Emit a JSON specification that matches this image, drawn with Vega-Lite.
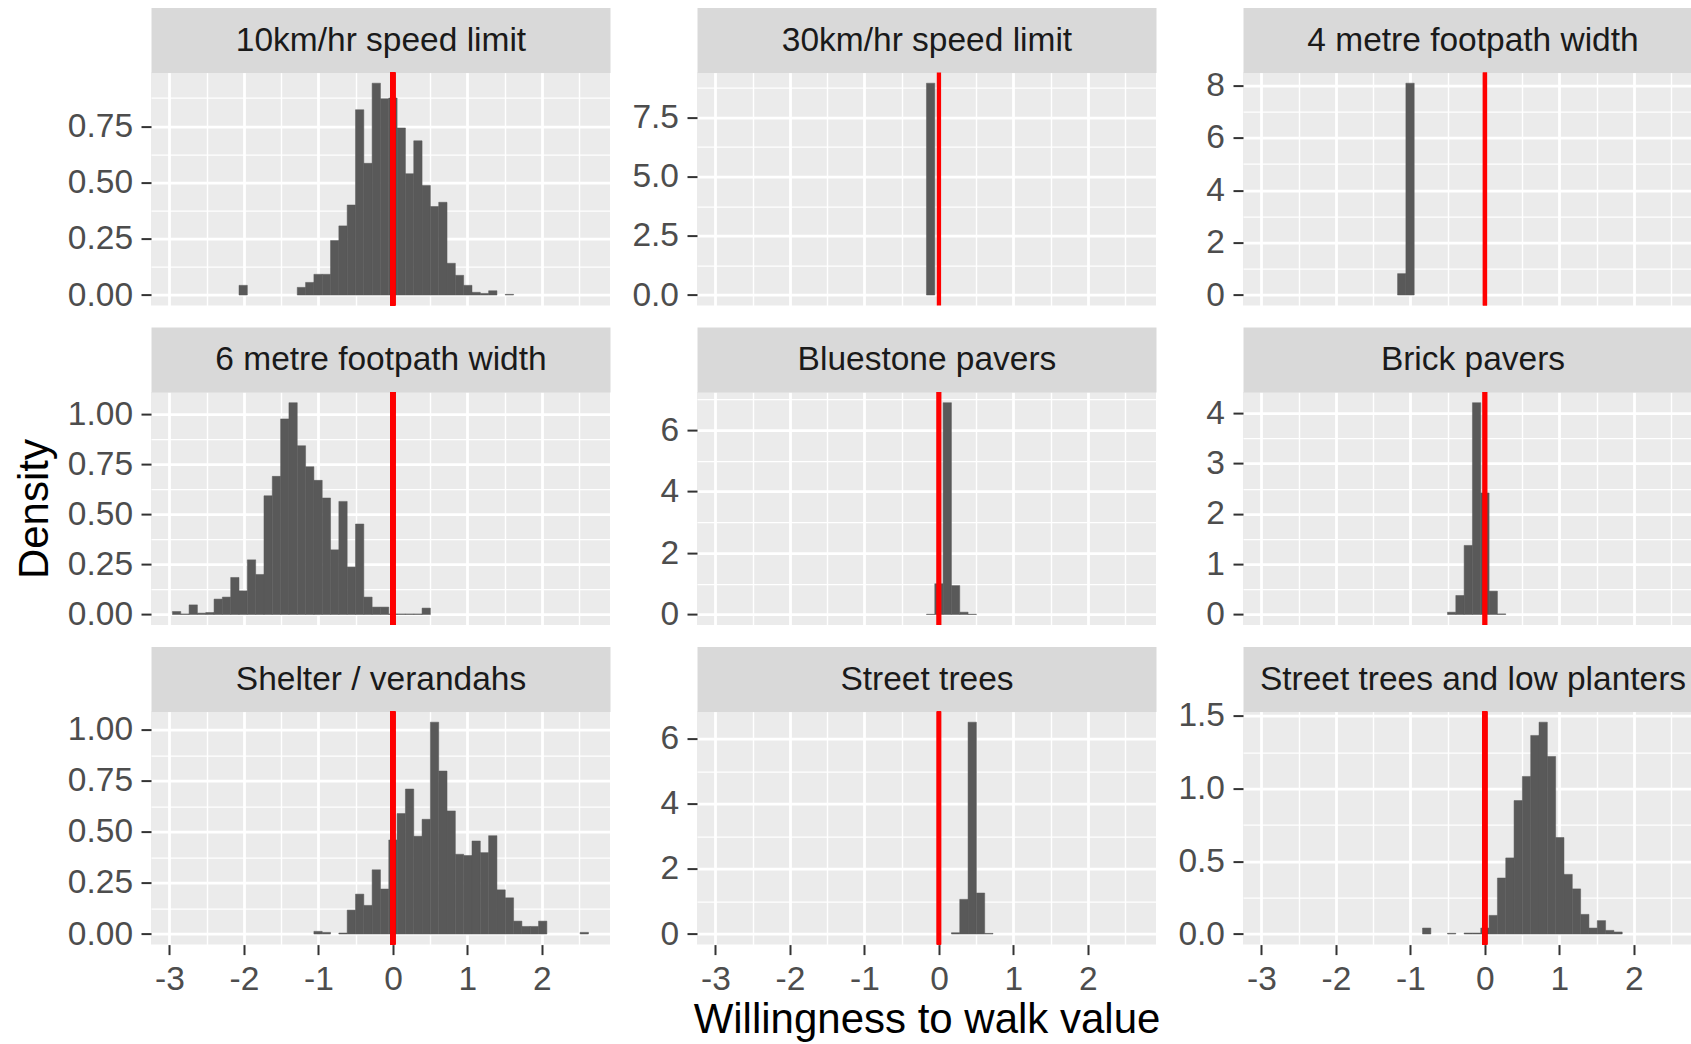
{
  "$schema": "https://vega.github.io/schema/vega-lite/v6.json",
  "background": "#FFFFFF",
  "padding": {"left": 13, "top": 22.6, "right": 0, "bottom": 0},
  "config": {
    "view": {"fill": "#EBEBEB", "stroke": null},
    "font": "Liberation Sans",
    "axis": {
      "labelFont": "Liberation Sans",
      "labelFontSize": 33.5,
      "labelColor": "#4D4D4D",
      "labelPadding": 8.5,
      "labelFlush": false,
      "labelOverlap": false,
      "tickColor": "#333333",
      "tickSize": 10,
      "tickWidth": 2,
      "gridColor": "#FFFFFF",
      "domain": false,
      "titleFont": "Liberation Sans",
      "titleFontSize": 42,
      "titleFontWeight": "normal",
      "titleColor": "#000000"
    }
  },
  "data": {
    "values": [
      {"p": "10km/hr speed limit", "lo": -2.0665, "hi": -1.9548, "d": 0.043},
      {"p": "10km/hr speed limit", "lo": -1.2846, "hi": -1.1729, "d": 0.034},
      {"p": "10km/hr speed limit", "lo": -1.1729, "hi": -1.0612, "d": 0.056},
      {"p": "10km/hr speed limit", "lo": -1.0612, "hi": -0.9495, "d": 0.092},
      {"p": "10km/hr speed limit", "lo": -0.9495, "hi": -0.8378, "d": 0.092},
      {"p": "10km/hr speed limit", "lo": -0.8378, "hi": -0.7261, "d": 0.242},
      {"p": "10km/hr speed limit", "lo": -0.7261, "hi": -0.6144, "d": 0.307},
      {"p": "10km/hr speed limit", "lo": -0.6144, "hi": -0.5027, "d": 0.400},
      {"p": "10km/hr speed limit", "lo": -0.5027, "hi": -0.391, "d": 0.823},
      {"p": "10km/hr speed limit", "lo": -0.391, "hi": -0.2793, "d": 0.585},
      {"p": "10km/hr speed limit", "lo": -0.2793, "hi": -0.1676, "d": 0.941},
      {"p": "10km/hr speed limit", "lo": -0.1676, "hi": -0.0559, "d": 0.872},
      {"p": "10km/hr speed limit", "lo": -0.0559, "hi": 0.0559, "d": 0.875},
      {"p": "10km/hr speed limit", "lo": 0.0559, "hi": 0.1676, "d": 0.742},
      {"p": "10km/hr speed limit", "lo": 0.1676, "hi": 0.2793, "d": 0.539},
      {"p": "10km/hr speed limit", "lo": 0.2793, "hi": 0.391, "d": 0.685},
      {"p": "10km/hr speed limit", "lo": 0.391, "hi": 0.5027, "d": 0.487},
      {"p": "10km/hr speed limit", "lo": 0.5027, "hi": 0.6144, "d": 0.393},
      {"p": "10km/hr speed limit", "lo": 0.6144, "hi": 0.7261, "d": 0.412},
      {"p": "10km/hr speed limit", "lo": 0.7261, "hi": 0.8378, "d": 0.141},
      {"p": "10km/hr speed limit", "lo": 0.8378, "hi": 0.9495, "d": 0.0875},
      {"p": "10km/hr speed limit", "lo": 0.9495, "hi": 1.0612, "d": 0.043},
      {"p": "10km/hr speed limit", "lo": 1.0612, "hi": 1.1729, "d": 0.012},
      {"p": "10km/hr speed limit", "lo": 1.1729, "hi": 1.2846, "d": 0.007},
      {"p": "10km/hr speed limit", "lo": 1.2846, "hi": 1.3963, "d": 0.019},
      {"p": "10km/hr speed limit", "lo": 1.508, "hi": 1.6197, "d": 0.003},

      {"p": "30km/hr speed limit", "lo": -0.1676, "hi": -0.0559, "d": 8.95},

      {"p": "4 metre footpath width", "lo": -1.1729, "hi": -1.0612, "d": 0.816},
      {"p": "4 metre footpath width", "lo": -1.0612, "hi": -0.9495, "d": 8.09},

      {"p": "6 metre footpath width", "lo": -2.9601, "hi": -2.8484, "d": 0.015},
      {"p": "6 metre footpath width", "lo": -2.8484, "hi": -2.7367, "d": 0.003},
      {"p": "6 metre footpath width", "lo": -2.7367, "hi": -2.625, "d": 0.048},
      {"p": "6 metre footpath width", "lo": -2.625, "hi": -2.5133, "d": 0.007},
      {"p": "6 metre footpath width", "lo": -2.5133, "hi": -2.4016, "d": 0.010},
      {"p": "6 metre footpath width", "lo": -2.4016, "hi": -2.2899, "d": 0.077},
      {"p": "6 metre footpath width", "lo": -2.2899, "hi": -2.1782, "d": 0.087},
      {"p": "6 metre footpath width", "lo": -2.1782, "hi": -2.0665, "d": 0.185},
      {"p": "6 metre footpath width", "lo": -2.0665, "hi": -1.9548, "d": 0.118},
      {"p": "6 metre footpath width", "lo": -1.9548, "hi": -1.8431, "d": 0.273},
      {"p": "6 metre footpath width", "lo": -1.8431, "hi": -1.7314, "d": 0.200},
      {"p": "6 metre footpath width", "lo": -1.7314, "hi": -1.6197, "d": 0.593},
      {"p": "6 metre footpath width", "lo": -1.6197, "hi": -1.508, "d": 0.690},
      {"p": "6 metre footpath width", "lo": -1.508, "hi": -1.3963, "d": 0.977},
      {"p": "6 metre footpath width", "lo": -1.3963, "hi": -1.2846, "d": 1.058},
      {"p": "6 metre footpath width", "lo": -1.2846, "hi": -1.1729, "d": 0.843},
      {"p": "6 metre footpath width", "lo": -1.1729, "hi": -1.0612, "d": 0.738},
      {"p": "6 metre footpath width", "lo": -1.0612, "hi": -0.9495, "d": 0.670},
      {"p": "6 metre footpath width", "lo": -0.9495, "hi": -0.8378, "d": 0.582},
      {"p": "6 metre footpath width", "lo": -0.8378, "hi": -0.7261, "d": 0.323},
      {"p": "6 metre footpath width", "lo": -0.7261, "hi": -0.6144, "d": 0.565},
      {"p": "6 metre footpath width", "lo": -0.6144, "hi": -0.5027, "d": 0.237},
      {"p": "6 metre footpath width", "lo": -0.5027, "hi": -0.391, "d": 0.452},
      {"p": "6 metre footpath width", "lo": -0.391, "hi": -0.2793, "d": 0.087},
      {"p": "6 metre footpath width", "lo": -0.2793, "hi": -0.1676, "d": 0.037},
      {"p": "6 metre footpath width", "lo": -0.1676, "hi": -0.0559, "d": 0.037},
      {"p": "6 metre footpath width", "lo": -0.0559, "hi": 0.0559, "d": 0.003},
      {"p": "6 metre footpath width", "lo": 0.0559, "hi": 0.1676, "d": 0.003},
      {"p": "6 metre footpath width", "lo": 0.1676, "hi": 0.2793, "d": 0.003},
      {"p": "6 metre footpath width", "lo": 0.2793, "hi": 0.391, "d": 0.003},
      {"p": "6 metre footpath width", "lo": 0.391, "hi": 0.5027, "d": 0.032},

      {"p": "Bluestone pavers", "lo": -0.1676, "hi": -0.0559, "d": 0.010},
      {"p": "Bluestone pavers", "lo": -0.0559, "hi": 0.0559, "d": 1.00},
      {"p": "Bluestone pavers", "lo": 0.0559, "hi": 0.1676, "d": 6.89},
      {"p": "Bluestone pavers", "lo": 0.1676, "hi": 0.2793, "d": 0.94},
      {"p": "Bluestone pavers", "lo": 0.2793, "hi": 0.391, "d": 0.076},
      {"p": "Bluestone pavers", "lo": 0.391, "hi": 0.5027, "d": 0.010},

      {"p": "Brick pavers", "lo": -0.5027, "hi": -0.391, "d": 0.046},
      {"p": "Brick pavers", "lo": -0.391, "hi": -0.2793, "d": 0.378},
      {"p": "Brick pavers", "lo": -0.2793, "hi": -0.1676, "d": 1.373},
      {"p": "Brick pavers", "lo": -0.1676, "hi": -0.0559, "d": 4.21},
      {"p": "Brick pavers", "lo": -0.0559, "hi": 0.0559, "d": 2.415},
      {"p": "Brick pavers", "lo": 0.0559, "hi": 0.1676, "d": 0.464},
      {"p": "Brick pavers", "lo": 0.1676, "hi": 0.2793, "d": 0.013},

      {"p": "Shelter / verandahs", "lo": -1.0612, "hi": -0.9495, "d": 0.013},
      {"p": "Shelter / verandahs", "lo": -0.9495, "hi": -0.8378, "d": 0.008},
      {"p": "Shelter / verandahs", "lo": -0.7261, "hi": -0.6144, "d": 0.005},
      {"p": "Shelter / verandahs", "lo": -0.6144, "hi": -0.5027, "d": 0.117},
      {"p": "Shelter / verandahs", "lo": -0.5027, "hi": -0.391, "d": 0.195},
      {"p": "Shelter / verandahs", "lo": -0.391, "hi": -0.2793, "d": 0.140},
      {"p": "Shelter / verandahs", "lo": -0.2793, "hi": -0.1676, "d": 0.314},
      {"p": "Shelter / verandahs", "lo": -0.1676, "hi": -0.0559, "d": 0.220},
      {"p": "Shelter / verandahs", "lo": -0.0559, "hi": 0.0559, "d": 0.460},
      {"p": "Shelter / verandahs", "lo": 0.0559, "hi": 0.1676, "d": 0.589},
      {"p": "Shelter / verandahs", "lo": 0.1676, "hi": 0.2793, "d": 0.709},
      {"p": "Shelter / verandahs", "lo": 0.2793, "hi": 0.391, "d": 0.478},
      {"p": "Shelter / verandahs", "lo": 0.391, "hi": 0.5027, "d": 0.561},
      {"p": "Shelter / verandahs", "lo": 0.5027, "hi": 0.6144, "d": 1.036},
      {"p": "Shelter / verandahs", "lo": 0.6144, "hi": 0.7261, "d": 0.797},
      {"p": "Shelter / verandahs", "lo": 0.7261, "hi": 0.8378, "d": 0.602},
      {"p": "Shelter / verandahs", "lo": 0.8378, "hi": 0.9495, "d": 0.390},
      {"p": "Shelter / verandahs", "lo": 0.9495, "hi": 1.0612, "d": 0.384},
      {"p": "Shelter / verandahs", "lo": 1.0612, "hi": 1.1729, "d": 0.455},
      {"p": "Shelter / verandahs", "lo": 1.1729, "hi": 1.2846, "d": 0.398},
      {"p": "Shelter / verandahs", "lo": 1.2846, "hi": 1.3963, "d": 0.481},
      {"p": "Shelter / verandahs", "lo": 1.3963, "hi": 1.508, "d": 0.216},
      {"p": "Shelter / verandahs", "lo": 1.508, "hi": 1.6197, "d": 0.177},
      {"p": "Shelter / verandahs", "lo": 1.6197, "hi": 1.7314, "d": 0.063},
      {"p": "Shelter / verandahs", "lo": 1.7314, "hi": 1.8431, "d": 0.037},
      {"p": "Shelter / verandahs", "lo": 1.8431, "hi": 1.9548, "d": 0.037},
      {"p": "Shelter / verandahs", "lo": 1.9548, "hi": 2.0665, "d": 0.063},
      {"p": "Shelter / verandahs", "lo": 2.5133, "hi": 2.625, "d": 0.008},

      {"p": "Street trees", "lo": 0.1676, "hi": 0.2793, "d": 0.04},
      {"p": "Street trees", "lo": 0.2793, "hi": 0.391, "d": 1.065},
      {"p": "Street trees", "lo": 0.391, "hi": 0.5027, "d": 6.51},
      {"p": "Street trees", "lo": 0.5027, "hi": 0.6144, "d": 1.26},
      {"p": "Street trees", "lo": 0.6144, "hi": 0.7261, "d": 0.02},

      {"p": "Street trees and low planters", "lo": -0.8378, "hi": -0.7261, "d": 0.041},
      {"p": "Street trees and low planters", "lo": -0.5027, "hi": -0.391, "d": 0.005},
      {"p": "Street trees and low planters", "lo": -0.2793, "hi": -0.1676, "d": 0.007},
      {"p": "Street trees and low planters", "lo": -0.1676, "hi": -0.0559, "d": 0.007},
      {"p": "Street trees and low planters", "lo": -0.0559, "hi": 0.0559, "d": 0.041},
      {"p": "Street trees and low planters", "lo": 0.0559, "hi": 0.1676, "d": 0.128},
      {"p": "Street trees and low planters", "lo": 0.1676, "hi": 0.2793, "d": 0.385},
      {"p": "Street trees and low planters", "lo": 0.2793, "hi": 0.391, "d": 0.523},
      {"p": "Street trees and low planters", "lo": 0.391, "hi": 0.5027, "d": 0.917},
      {"p": "Street trees and low planters", "lo": 0.5027, "hi": 0.6144, "d": 1.083},
      {"p": "Street trees and low planters", "lo": 0.6144, "hi": 0.7261, "d": 1.365},
      {"p": "Street trees and low planters", "lo": 0.7261, "hi": 0.8378, "d": 1.456},
      {"p": "Street trees and low planters", "lo": 0.8378, "hi": 0.9495, "d": 1.220},
      {"p": "Street trees and low planters", "lo": 0.9495, "hi": 1.0612, "d": 0.663},
      {"p": "Street trees and low planters", "lo": 1.0612, "hi": 1.1729, "d": 0.410},
      {"p": "Street trees and low planters", "lo": 1.1729, "hi": 1.2846, "d": 0.310},
      {"p": "Street trees and low planters", "lo": 1.2846, "hi": 1.3963, "d": 0.135},
      {"p": "Street trees and low planters", "lo": 1.3963, "hi": 1.508, "d": 0.041},
      {"p": "Street trees and low planters", "lo": 1.508, "hi": 1.6197, "d": 0.092},
      {"p": "Street trees and low planters", "lo": 1.6197, "hi": 1.7314, "d": 0.025},
      {"p": "Street trees and low planters", "lo": 1.7314, "hi": 1.8431, "d": 0.014}
    ]
  },
  "columns": 3,
  "bounds": "flush",
  "spacing": {"row": 86.5, "column": 87},
  "concat": [
    {
      "width": 459, "height": 233,
      "transform": [{"filter": {"field": "p", "equal": "10km/hr speed limit"}}],
      "layer": [
        {"mark": {"type": "bar", "color": "#595959", "stroke": "#595959", "strokeWidth": 0.5},
         "encoding": {
           "x": {"field": "lo", "type": "quantitative", "scale": {"domain": [-3.248, 2.914], "nice": false},
                 "axis": {"orient": "bottom", "values": [-3, -2, -1, 0, 1, 2], "grid": true, "gridWidth": 2.8, "labels": false, "ticks": false, "title": null, "minExtent": 0}},
           "x2": {"field": "hi"},
           "y": {"field": "d", "type": "quantitative", "scale": {"domain": [-0.047, 0.988], "nice": false},
                 "axis": {"orient": "left", "values": [0, 0.25, 0.5, 0.75], "format": ".2f", "grid": true, "gridWidth": 2.8, "title": null}},
           "y2": {"datum": 0}}},
        {"mark": {"type": "bar", "opacity": 0},
         "encoding": {
           "x": {"field": "lo", "type": "quantitative", "scale": {"domain": [-3.248, 2.914], "nice": false},
                 "axis": {"orient": "top", "values": [-2.5, -1.5, -0.5, 0.5, 1.5, 2.5], "grid": true, "gridWidth": 1.4, "labels": false, "ticks": false,
                          "domain": true, "domainColor": "#D9D9D9", "domainWidth": 65, "offset": 32.5,
                          "title": "10km/hr speed limit", "titleY": 0, "titleBaseline": "middle", "titleFontSize": 33.5, "titleColor": "#1A1A1A"}},
           "x2": {"field": "hi"},
           "y": {"field": "d", "type": "quantitative", "scale": {"domain": [-0.047, 0.988], "nice": false},
                 "axis": {"orient": "right", "values": [0.125, 0.375, 0.625, 0.875], "grid": true, "gridWidth": 1.4, "labels": false, "ticks": false, "title": null, "minExtent": 0}},
           "y2": {"datum": 0}}},
        {"mark": {"type": "rule", "color": "#FF0000", "strokeWidth": 4.3},
         "encoding": {"x": {"datum": 0, "type": "quantitative", "axis": null}}}
      ],
      "resolve": {"axis": {"x": "independent", "y": "independent"}}
    },
    {
      "width": 459, "height": 233,
      "transform": [{"filter": {"field": "p", "equal": "30km/hr speed limit"}}],
      "layer": [
        {"mark": {"type": "bar", "color": "#595959", "stroke": "#595959", "strokeWidth": 0.5},
         "encoding": {
           "x": {"field": "lo", "type": "quantitative", "scale": {"domain": [-3.248, 2.914], "nice": false},
                 "axis": {"orient": "bottom", "values": [-3, -2, -1, 0, 1, 2], "grid": true, "gridWidth": 2.8, "labels": false, "ticks": false, "title": null, "minExtent": 0}},
           "x2": {"field": "hi"},
           "y": {"field": "d", "type": "quantitative", "scale": {"domain": [-0.4475, 9.3975], "nice": false},
                 "axis": {"orient": "left", "values": [0, 2.5, 5, 7.5], "format": ".1f", "grid": true, "gridWidth": 2.8, "title": null}},
           "y2": {"datum": 0}}},
        {"mark": {"type": "bar", "opacity": 0},
         "encoding": {
           "x": {"field": "lo", "type": "quantitative", "scale": {"domain": [-3.248, 2.914], "nice": false},
                 "axis": {"orient": "top", "values": [-2.5, -1.5, -0.5, 0.5, 1.5, 2.5], "grid": true, "gridWidth": 1.4, "labels": false, "ticks": false,
                          "domain": true, "domainColor": "#D9D9D9", "domainWidth": 65, "offset": 32.5,
                          "title": "30km/hr speed limit", "titleY": 0, "titleBaseline": "middle", "titleFontSize": 33.5, "titleColor": "#1A1A1A"}},
           "x2": {"field": "hi"},
           "y": {"field": "d", "type": "quantitative", "scale": {"domain": [-0.4475, 9.3975], "nice": false},
                 "axis": {"orient": "right", "values": [1.25, 3.75, 6.25, 8.75], "grid": true, "gridWidth": 1.4, "labels": false, "ticks": false, "title": null, "minExtent": 0}},
           "y2": {"datum": 0}}},
        {"mark": {"type": "rule", "color": "#FF0000", "strokeWidth": 4.3},
         "encoding": {"x": {"datum": 0, "type": "quantitative", "axis": null}}}
      ],
      "resolve": {"axis": {"x": "independent", "y": "independent"}}
    },
    {
      "width": 459, "height": 233,
      "transform": [{"filter": {"field": "p", "equal": "4 metre footpath width"}}],
      "layer": [
        {"mark": {"type": "bar", "color": "#595959", "stroke": "#595959", "strokeWidth": 0.5},
         "encoding": {
           "x": {"field": "lo", "type": "quantitative", "scale": {"domain": [-3.248, 2.914], "nice": false},
                 "axis": {"orient": "bottom", "values": [-3, -2, -1, 0, 1, 2], "grid": true, "gridWidth": 2.8, "labels": false, "ticks": false, "title": null, "minExtent": 0}},
           "x2": {"field": "hi"},
           "y": {"field": "d", "type": "quantitative", "scale": {"domain": [-0.4045, 8.4945], "nice": false},
                 "axis": {"orient": "left", "values": [0, 2, 4, 6, 8], "format": "d", "grid": true, "gridWidth": 2.8, "title": null}},
           "y2": {"datum": 0}}},
        {"mark": {"type": "bar", "opacity": 0},
         "encoding": {
           "x": {"field": "lo", "type": "quantitative", "scale": {"domain": [-3.248, 2.914], "nice": false},
                 "axis": {"orient": "top", "values": [-2.5, -1.5, -0.5, 0.5, 1.5, 2.5], "grid": true, "gridWidth": 1.4, "labels": false, "ticks": false,
                          "domain": true, "domainColor": "#D9D9D9", "domainWidth": 65, "offset": 32.5,
                          "title": "4 metre footpath width", "titleY": 0, "titleBaseline": "middle", "titleFontSize": 33.5, "titleColor": "#1A1A1A"}},
           "x2": {"field": "hi"},
           "y": {"field": "d", "type": "quantitative", "scale": {"domain": [-0.4045, 8.4945], "nice": false},
                 "axis": {"orient": "right", "values": [1, 3, 5, 7], "grid": true, "gridWidth": 1.4, "labels": false, "ticks": false, "title": null, "minExtent": 0}},
           "y2": {"datum": 0}}},
        {"mark": {"type": "rule", "color": "#FF0000", "strokeWidth": 4.3},
         "encoding": {"x": {"datum": 0, "type": "quantitative", "axis": null}}}
      ],
      "resolve": {"axis": {"x": "independent", "y": "independent"}}
    },
    {
      "width": 459, "height": 233,
      "transform": [{"filter": {"field": "p", "equal": "6 metre footpath width"}}],
      "layer": [
        {"mark": {"type": "bar", "color": "#595959", "stroke": "#595959", "strokeWidth": 0.5},
         "encoding": {
           "x": {"field": "lo", "type": "quantitative", "scale": {"domain": [-3.248, 2.914], "nice": false},
                 "axis": {"orient": "bottom", "values": [-3, -2, -1, 0, 1, 2], "grid": true, "gridWidth": 2.8, "labels": false, "ticks": false, "title": null, "minExtent": 0}},
           "x2": {"field": "hi"},
           "y": {"field": "d", "type": "quantitative", "scale": {"domain": [-0.0529, 1.1109], "nice": false},
                 "axis": {"orient": "left", "values": [0, 0.25, 0.5, 0.75, 1], "format": ".2f", "grid": true, "gridWidth": 2.8, "title": "Density", "titlePadding": 11}},
           "y2": {"datum": 0}}},
        {"mark": {"type": "bar", "opacity": 0},
         "encoding": {
           "x": {"field": "lo", "type": "quantitative", "scale": {"domain": [-3.248, 2.914], "nice": false},
                 "axis": {"orient": "top", "values": [-2.5, -1.5, -0.5, 0.5, 1.5, 2.5], "grid": true, "gridWidth": 1.4, "labels": false, "ticks": false,
                          "domain": true, "domainColor": "#D9D9D9", "domainWidth": 65, "offset": 32.5,
                          "title": "6 metre footpath width", "titleY": 0, "titleBaseline": "middle", "titleFontSize": 33.5, "titleColor": "#1A1A1A"}},
           "x2": {"field": "hi"},
           "y": {"field": "d", "type": "quantitative", "scale": {"domain": [-0.0529, 1.1109], "nice": false},
                 "axis": {"orient": "right", "values": [0.125, 0.375, 0.625, 0.875], "grid": true, "gridWidth": 1.4, "labels": false, "ticks": false, "title": null, "minExtent": 0}},
           "y2": {"datum": 0}}},
        {"mark": {"type": "rule", "color": "#FF0000", "strokeWidth": 4.3},
         "encoding": {"x": {"datum": 0, "type": "quantitative", "axis": null}}}
      ],
      "resolve": {"axis": {"x": "independent", "y": "independent"}}
    },
    {
      "width": 459, "height": 233,
      "transform": [{"filter": {"field": "p", "equal": "Bluestone pavers"}}],
      "layer": [
        {"mark": {"type": "bar", "color": "#595959", "stroke": "#595959", "strokeWidth": 0.5},
         "encoding": {
           "x": {"field": "lo", "type": "quantitative", "scale": {"domain": [-3.248, 2.914], "nice": false},
                 "axis": {"orient": "bottom", "values": [-3, -2, -1, 0, 1, 2], "grid": true, "gridWidth": 2.8, "labels": false, "ticks": false, "title": null, "minExtent": 0}},
           "x2": {"field": "hi"},
           "y": {"field": "d", "type": "quantitative", "scale": {"domain": [-0.3445, 7.2345], "nice": false},
                 "axis": {"orient": "left", "values": [0, 2, 4, 6], "format": "d", "grid": true, "gridWidth": 2.8, "title": null}},
           "y2": {"datum": 0}}},
        {"mark": {"type": "bar", "opacity": 0},
         "encoding": {
           "x": {"field": "lo", "type": "quantitative", "scale": {"domain": [-3.248, 2.914], "nice": false},
                 "axis": {"orient": "top", "values": [-2.5, -1.5, -0.5, 0.5, 1.5, 2.5], "grid": true, "gridWidth": 1.4, "labels": false, "ticks": false,
                          "domain": true, "domainColor": "#D9D9D9", "domainWidth": 65, "offset": 32.5,
                          "title": "Bluestone pavers", "titleY": 0, "titleBaseline": "middle", "titleFontSize": 33.5, "titleColor": "#1A1A1A"}},
           "x2": {"field": "hi"},
           "y": {"field": "d", "type": "quantitative", "scale": {"domain": [-0.3445, 7.2345], "nice": false},
                 "axis": {"orient": "right", "values": [1, 3, 5, 7], "grid": true, "gridWidth": 1.4, "labels": false, "ticks": false, "title": null, "minExtent": 0}},
           "y2": {"datum": 0}}},
        {"mark": {"type": "rule", "color": "#FF0000", "strokeWidth": 4.3},
         "encoding": {"x": {"datum": 0, "type": "quantitative", "axis": null}}}
      ],
      "resolve": {"axis": {"x": "independent", "y": "independent"}}
    },
    {
      "width": 459, "height": 233,
      "transform": [{"filter": {"field": "p", "equal": "Brick pavers"}}],
      "layer": [
        {"mark": {"type": "bar", "color": "#595959", "stroke": "#595959", "strokeWidth": 0.5},
         "encoding": {
           "x": {"field": "lo", "type": "quantitative", "scale": {"domain": [-3.248, 2.914], "nice": false},
                 "axis": {"orient": "bottom", "values": [-3, -2, -1, 0, 1, 2], "grid": true, "gridWidth": 2.8, "labels": false, "ticks": false, "title": null, "minExtent": 0}},
           "x2": {"field": "hi"},
           "y": {"field": "d", "type": "quantitative", "scale": {"domain": [-0.2105, 4.4205], "nice": false},
                 "axis": {"orient": "left", "values": [0, 1, 2, 3, 4], "format": "d", "grid": true, "gridWidth": 2.8, "title": null}},
           "y2": {"datum": 0}}},
        {"mark": {"type": "bar", "opacity": 0},
         "encoding": {
           "x": {"field": "lo", "type": "quantitative", "scale": {"domain": [-3.248, 2.914], "nice": false},
                 "axis": {"orient": "top", "values": [-2.5, -1.5, -0.5, 0.5, 1.5, 2.5], "grid": true, "gridWidth": 1.4, "labels": false, "ticks": false,
                          "domain": true, "domainColor": "#D9D9D9", "domainWidth": 65, "offset": 32.5,
                          "title": "Brick pavers", "titleY": 0, "titleBaseline": "middle", "titleFontSize": 33.5, "titleColor": "#1A1A1A"}},
           "x2": {"field": "hi"},
           "y": {"field": "d", "type": "quantitative", "scale": {"domain": [-0.2105, 4.4205], "nice": false},
                 "axis": {"orient": "right", "values": [0.5, 1.5, 2.5, 3.5], "grid": true, "gridWidth": 1.4, "labels": false, "ticks": false, "title": null, "minExtent": 0}},
           "y2": {"datum": 0}}},
        {"mark": {"type": "rule", "color": "#FF0000", "strokeWidth": 4.3},
         "encoding": {"x": {"datum": 0, "type": "quantitative", "axis": null}}}
      ],
      "resolve": {"axis": {"x": "independent", "y": "independent"}}
    },
    {
      "width": 459, "height": 233,
      "transform": [{"filter": {"field": "p", "equal": "Shelter / verandahs"}}],
      "layer": [
        {"mark": {"type": "bar", "color": "#595959", "stroke": "#595959", "strokeWidth": 0.5},
         "encoding": {
           "x": {"field": "lo", "type": "quantitative", "scale": {"domain": [-3.248, 2.914], "nice": false},
                 "axis": {"orient": "bottom", "values": [-3, -2, -1, 0, 1, 2], "labelExpr": "'' + datum.value", "grid": true, "gridWidth": 2.8, "title": null}},
           "x2": {"field": "hi"},
           "y": {"field": "d", "type": "quantitative", "scale": {"domain": [-0.0518, 1.0878], "nice": false},
                 "axis": {"orient": "left", "values": [0, 0.25, 0.5, 0.75, 1], "format": ".2f", "grid": true, "gridWidth": 2.8, "title": null}},
           "y2": {"datum": 0}}},
        {"mark": {"type": "bar", "opacity": 0},
         "encoding": {
           "x": {"field": "lo", "type": "quantitative", "scale": {"domain": [-3.248, 2.914], "nice": false},
                 "axis": {"orient": "top", "values": [-2.5, -1.5, -0.5, 0.5, 1.5, 2.5], "grid": true, "gridWidth": 1.4, "labels": false, "ticks": false,
                          "domain": true, "domainColor": "#D9D9D9", "domainWidth": 65, "offset": 32.5,
                          "title": "Shelter / verandahs", "titleY": 0, "titleBaseline": "middle", "titleFontSize": 33.5, "titleColor": "#1A1A1A"}},
           "x2": {"field": "hi"},
           "y": {"field": "d", "type": "quantitative", "scale": {"domain": [-0.0518, 1.0878], "nice": false},
                 "axis": {"orient": "right", "values": [0.125, 0.375, 0.625, 0.875], "grid": true, "gridWidth": 1.4, "labels": false, "ticks": false, "title": null, "minExtent": 0}},
           "y2": {"datum": 0}}},
        {"mark": {"type": "rule", "color": "#FF0000", "strokeWidth": 4.3},
         "encoding": {"x": {"datum": 0, "type": "quantitative", "axis": null}}}
      ],
      "resolve": {"axis": {"x": "independent", "y": "independent"}}
    },
    {
      "width": 459, "height": 233,
      "transform": [{"filter": {"field": "p", "equal": "Street trees"}}],
      "layer": [
        {"mark": {"type": "bar", "color": "#595959", "stroke": "#595959", "strokeWidth": 0.5},
         "encoding": {
           "x": {"field": "lo", "type": "quantitative", "scale": {"domain": [-3.248, 2.914], "nice": false},
                 "axis": {"orient": "bottom", "values": [-3, -2, -1, 0, 1, 2], "labelExpr": "'' + datum.value", "grid": true, "gridWidth": 2.8, "title": "Willingness to walk value", "titlePadding": 4.3}},
           "x2": {"field": "hi"},
           "y": {"field": "d", "type": "quantitative", "scale": {"domain": [-0.3255, 6.8355], "nice": false},
                 "axis": {"orient": "left", "values": [0, 2, 4, 6], "format": "d", "grid": true, "gridWidth": 2.8, "title": null}},
           "y2": {"datum": 0}}},
        {"mark": {"type": "bar", "opacity": 0},
         "encoding": {
           "x": {"field": "lo", "type": "quantitative", "scale": {"domain": [-3.248, 2.914], "nice": false},
                 "axis": {"orient": "top", "values": [-2.5, -1.5, -0.5, 0.5, 1.5, 2.5], "grid": true, "gridWidth": 1.4, "labels": false, "ticks": false,
                          "domain": true, "domainColor": "#D9D9D9", "domainWidth": 65, "offset": 32.5,
                          "title": "Street trees", "titleY": 0, "titleBaseline": "middle", "titleFontSize": 33.5, "titleColor": "#1A1A1A"}},
           "x2": {"field": "hi"},
           "y": {"field": "d", "type": "quantitative", "scale": {"domain": [-0.3255, 6.8355], "nice": false},
                 "axis": {"orient": "right", "values": [1, 3, 5], "grid": true, "gridWidth": 1.4, "labels": false, "ticks": false, "title": null, "minExtent": 0}},
           "y2": {"datum": 0}}},
        {"mark": {"type": "rule", "color": "#FF0000", "strokeWidth": 4.3},
         "encoding": {"x": {"datum": 0, "type": "quantitative", "axis": null}}}
      ],
      "resolve": {"axis": {"x": "independent", "y": "independent"}}
    },
    {
      "width": 459, "height": 233,
      "transform": [{"filter": {"field": "p", "equal": "Street trees and low planters"}}],
      "layer": [
        {"mark": {"type": "bar", "color": "#595959", "stroke": "#595959", "strokeWidth": 0.5},
         "encoding": {
           "x": {"field": "lo", "type": "quantitative", "scale": {"domain": [-3.248, 2.914], "nice": false},
                 "axis": {"orient": "bottom", "values": [-3, -2, -1, 0, 1, 2], "labelExpr": "'' + datum.value", "grid": true, "gridWidth": 2.8, "title": null}},
           "x2": {"field": "hi"},
           "y": {"field": "d", "type": "quantitative", "scale": {"domain": [-0.0728, 1.5288], "nice": false},
                 "axis": {"orient": "left", "values": [0, 0.5, 1, 1.5], "format": ".1f", "grid": true, "gridWidth": 2.8, "title": null}},
           "y2": {"datum": 0}}},
        {"mark": {"type": "bar", "opacity": 0},
         "encoding": {
           "x": {"field": "lo", "type": "quantitative", "scale": {"domain": [-3.248, 2.914], "nice": false},
                 "axis": {"orient": "top", "values": [-2.5, -1.5, -0.5, 0.5, 1.5, 2.5], "grid": true, "gridWidth": 1.4, "labels": false, "ticks": false,
                          "domain": true, "domainColor": "#D9D9D9", "domainWidth": 65, "offset": 32.5,
                          "title": "Street trees and low planters", "titleY": 0, "titleBaseline": "middle", "titleFontSize": 33.5, "titleColor": "#1A1A1A"}},
           "x2": {"field": "hi"},
           "y": {"field": "d", "type": "quantitative", "scale": {"domain": [-0.0728, 1.5288], "nice": false},
                 "axis": {"orient": "right", "values": [0.25, 0.75, 1.25], "grid": true, "gridWidth": 1.4, "labels": false, "ticks": false, "title": null, "minExtent": 0}},
           "y2": {"datum": 0}}},
        {"mark": {"type": "rule", "color": "#FF0000", "strokeWidth": 4.3},
         "encoding": {"x": {"datum": 0, "type": "quantitative", "axis": null}}}
      ],
      "resolve": {"axis": {"x": "independent", "y": "independent"}}
    }
  ]
}
